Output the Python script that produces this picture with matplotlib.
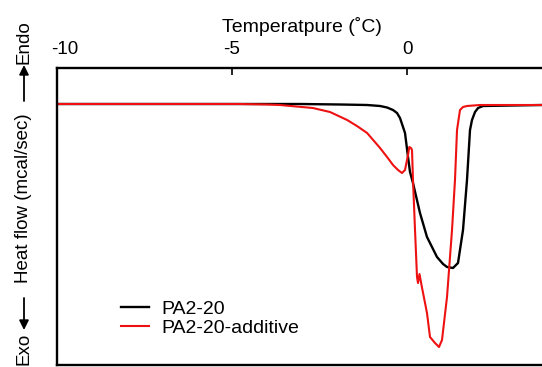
import matplotlib
matplotlib.use("Agg")
import matplotlib.pyplot as plt
from matplotlib.patches import FancyArrowPatch
from matplotlib.transforms import ScaledTranslation

plt.rcParams['font.family'] = ['Liberation Sans', 'DejaVu Sans']

# Temperature (°C) and heat flow (arbitrary units, baseline 0)
t_black = [-10, -3.06, -1.91, -1.14, -0.77, -0.57, -0.40, -0.286, -0.20, -0.057, 0.029, 0.086,
           0.171, 0.371, 0.571, 0.857, 1.03, 1.143, 1.314, 1.457, 1.60, 1.714,
           1.80, 1.857, 1.943, 2.03, 2.171, 3.857]
hf_black = [0.0, 0.0, -0.005, -0.01, -0.02, -0.035, -0.06, -0.09, -0.14, -0.29, -0.53, -0.68,
            -0.79, -1.09, -1.33, -1.53, -1.60, -1.63, -1.64, -1.59, -1.26, -0.76,
            -0.26, -0.16, -0.08, -0.04, -0.02, -0.01]

t_red = [-10, -4.77, -4.0, -3.63, -2.69, -2.2, -1.71, -1.43, -1.14, -0.77, -0.57, -0.40,
         -0.257, -0.143, -0.057, 0.029, 0.066, 0.114, 0.143, 0.171, 0.229, 0.286, 0.314,
         0.357, 0.414, 0.571, 0.657, 0.80, 0.914, 1.0, 1.143, 1.286, 1.371, 1.429, 1.514,
         1.6, 1.714, 2.086, 3.857]
hf_red = [0.0, 0.0, -0.005, -0.01, -0.04, -0.08, -0.16, -0.22, -0.29, -0.44, -0.53, -0.61,
          -0.66, -0.69, -0.66, -0.51, -0.43, -0.44, -0.46, -0.76, -1.26, -1.73, -1.79,
          -1.70, -1.81, -2.09, -2.33, -2.39, -2.43, -2.36, -1.93, -1.26, -0.76, -0.26, -0.06,
          -0.03, -0.02, -0.01, -0.01]

xticks = [-10, -5, 0]
labels = ['PA2-20', 'PA2-20-additive']

W, H = 542, 367
fig = plt.figure(figsize=(W/100, H/100), dpi=100)
ax = fig.add_axes([57/W, 2/H, 1 - 57/W, (365-68)/H])
ax.plot(t_black, hf_black, color='black', lw=1.7, label=labels[0])
ax.plot(t_red, hf_red, color='#ee1111', lw=1.5, label=labels[1])

ax.set_xlim(-10, 3.857)
ax.set_ylim(-2.61, 0.36)
ax.xaxis.tick_top()
ax.set_xticks(xticks)
ax.set_xticklabels([str(v) for v in xticks])
ax.tick_params(axis='x', direction='in', length=5, width=1.2, labelsize=13.5, pad=7)
ax.set_yticks([])
ax.spines['right'].set_visible(False)
for s in ['top', 'left', 'bottom']:
    ax.spines[s].set_linewidth(1.7)

# shift first tick label slightly right as in the reference
first = ax.xaxis.get_major_ticks()[0]
first.label2.set_transform(first.label2.get_transform() +
                           ScaledTranslation(8/100, 0, fig.dpi_scale_trans))

fig.text(302/W, 1 - 27/H, 'Temperatpure (˚C)', ha='center', va='center', fontsize=14)

# y label pieces
xl = 24/W
fig.text(xl, 1 - 42/H, 'Endo', rotation=90, ha='center', va='center', fontsize=13.5)
fig.text(xl, 1 - 198/H, 'Heat flow (mcal/sec)', rotation=90, ha='center', va='center', fontsize=13.5)
fig.text(xl, 1 - 349/H, 'Exo', rotation=90, ha='center', va='center', fontsize=13.5)
for y0, y1 in [(101, 65), (298, 330)]:
    arr = FancyArrowPatch((xl, 1 - y0/H), (xl, 1 - y1/H), transform=fig.transFigure,
                          arrowstyle='-|>', mutation_scale=14, lw=1.3, color='black',
                          shrinkA=0, shrinkB=0)
    fig.add_artist(arr)

ax.legend(loc='upper left', bbox_to_anchor=(121/W, 1 - 300/H),
          bbox_transform=fig.transFigure, frameon=False, fontsize=14,
          handlelength=1.45, handletextpad=0.65, labelspacing=0.1, borderpad=0,
          borderaxespad=0)

fig.savefig('out.png', dpi=100)
